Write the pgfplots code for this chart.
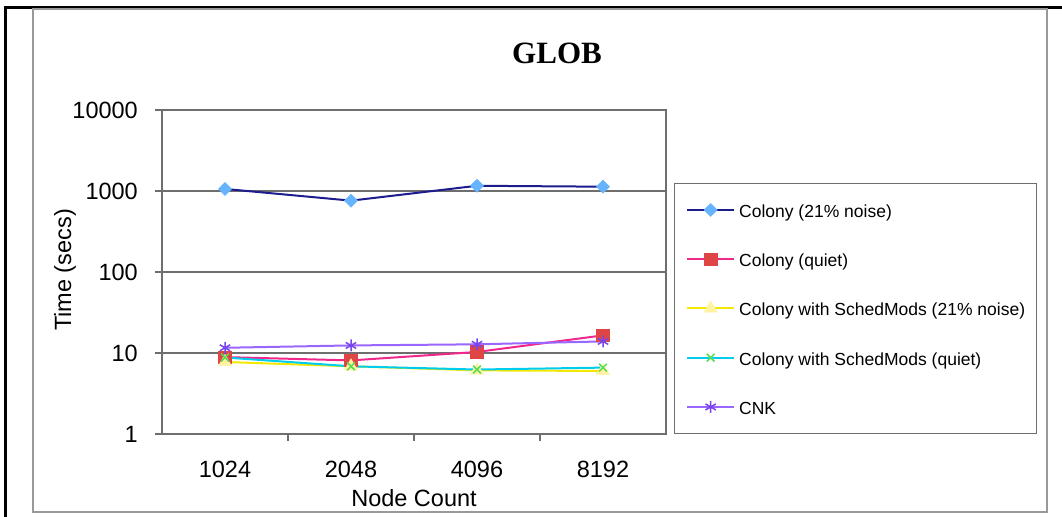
\documentclass[border=0pt]{standalone}
\usepackage{fontspec}
\setmainfont{Liberation Sans}
\newfontfamily\titlefont{Liberation Serif}
\usepackage{pgfplots}
\pgfplotsset{compat=1.18}

\definecolor{navy}{HTML}{1C1C8E}
\definecolor{skyb}{HTML}{66B3FF}
\definecolor{pinkl}{HTML}{F0288C}
\definecolor{redm}{HTML}{E04545}
\definecolor{yell}{HTML}{F5E800}
\definecolor{yellm}{HTML}{FFF2A0}
\definecolor{cyanl}{HTML}{00CCEE}
\definecolor{greenm}{HTML}{55DD55}
\definecolor{purl}{HTML}{9966FF}
\definecolor{purm}{HTML}{7744EE}
\definecolor{gridc}{HTML}{6E6E6E}

\begin{document}
\begin{tikzpicture}
\useasboundingbox (0bp,0bp) rectangle (1062bp,517bp);
% page frame
\draw[line width=3bp] (5bp,0bp) -- (5bp,509bp) -- (1062bp,509bp);
\draw[line width=2bp, color=gray!80] (33bp,5bp) rectangle (1047bp,508bp);

\begin{axis}[
    at={(162bp,83bp)}, anchor=south west,
    scale only axis,
    width=504bp, height=324bp,
    ymode=log,
    ymin=1, ymax=10000,
    xmin=-0.5, xmax=3.5,
    xtick={0,1,2,3},
    xticklabels={1024,2048,4096,8192},
    minor xtick={0.5,1.5,2.5},
    xtick pos=bottom, ytick pos=left,
    major x tick style={draw=none},
    minor tick length=7bp,
    ytick={1,10,100,1000,10000},
    yticklabels={1,10,100,1000,10000},
    major tick length=7bp,
    tick align=outside,
    x tick style={gridc, line width=1.2bp},
    y tick style={gridc, line width=1.2bp},
    yminorticks=false,
    ymajorgrids=true,
    grid style={gridc, line width=1.2bp},
    axis line style={gridc, line width=1.5bp},
    tick label style={font=\fontsize{23.5bp}{26bp}\selectfont, inner sep=0pt},
    xticklabel style={anchor=north, yshift=-20bp},
    yticklabel style={anchor=east, xshift=-17bp},
    label style={font=\fontsize{23.5bp}{26bp}\selectfont},
    xlabel={Node Count},
    ylabel={Time (secs)},
    xlabel style={at={(axis description cs:0.5,-0.1975)}, anchor=center},
    ylabel style={at={(axis description cs:-0.1925,0.506)}, anchor=center},
    legend cell align=left,
    legend style={
        at={(axis description cs:1.016,0.775)}, anchor=north west,
        draw=gridc, line width=1.2bp,
        inner xsep=11.5bp, inner ysep=15.3bp,
        row sep=26.95bp, column sep=4bp,
        font=\fontsize{17.5bp}{21bp}\selectfont,
        nodes={inner sep=0pt, text height=18.6bp, text depth=3.7bp},
    },
    legend image code/.code={
        \draw[mark repeat=2, mark phase=2, #1] plot coordinates {(0bp,0bp) (23.5bp,0bp) (47bp,0bp)};
    },
    every axis plot/.append style={line width=2bp},
]
\addplot[navy, mark=diamond*, mark size=6.5bp, mark options={draw=skyb, fill=skyb, line width=0.5bp, xscale=1.35}]
    coordinates {(0,1060) (1,760) (2,1160) (3,1130)};
\addlegendentry{Colony (21\% noise)}
\addplot[pinkl, mark=square*, mark size=6.3bp, mark options={draw=redm, fill=redm, line width=0.5bp}]
    coordinates {(0,8.9) (1,8.1) (2,10.3) (3,16.5)};
\addlegendentry{Colony (quiet)}
\addplot[yell, mark=triangle*, mark size=7.5bp, mark options={draw=yellm, fill=yellm, line width=0.5bp}]
    coordinates {(0,7.75) (1,6.85) (2,6.1) (3,6.0)};
\addlegendentry{Colony with SchedMods (21\% noise)}
\addplot[cyanl, mark=x, mark size=5.5bp, mark options={draw=greenm, line width=1.5bp}]
    coordinates {(0,8.8) (1,6.85) (2,6.25) (3,6.6)};
\addlegendentry{Colony with SchedMods (quiet)}
\addplot[purl, mark=asterisk, mark size=6bp, mark options={draw=purm, line width=1.5bp}]
    coordinates {(0,11.6) (1,12.4) (2,12.8) (3,13.9)};
\addlegendentry{CNK}
\end{axis}

\node[font=\titlefont\bfseries\fontsize{31bp}{34bp}\selectfont] at (557bp,464bp) {GLOB};
\end{tikzpicture}
\end{document}
